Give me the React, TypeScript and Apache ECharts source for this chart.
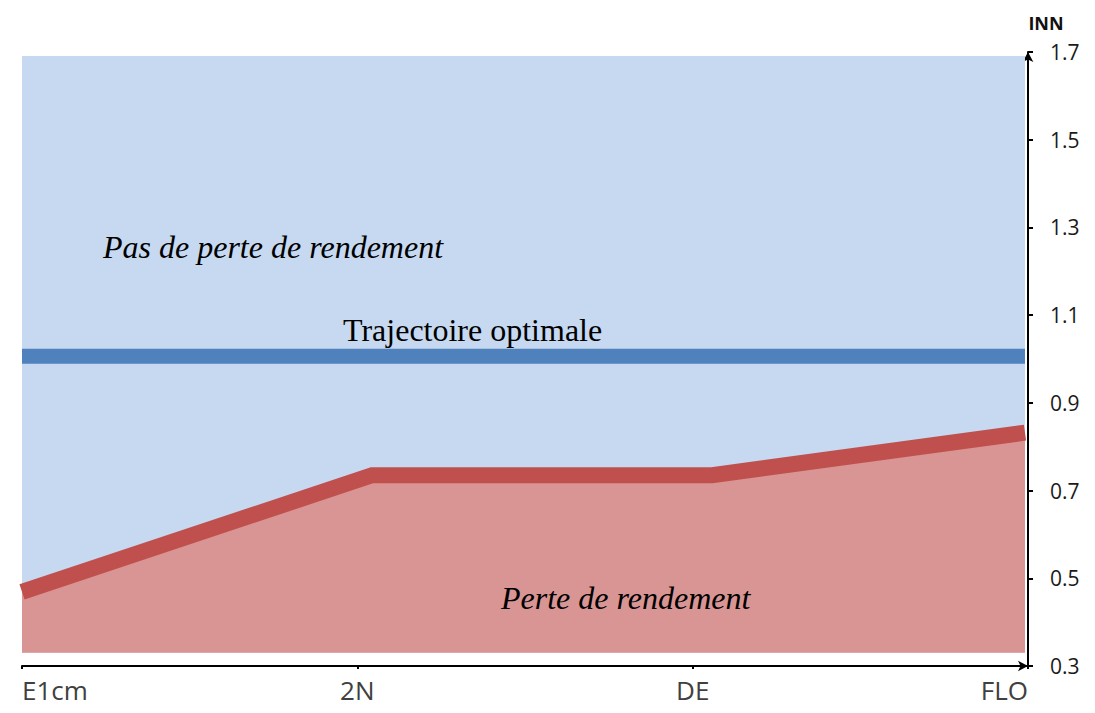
import React, { useEffect, useRef } from "react";
import * as echarts from "echarts";

const categories = ["E1cm", "2N", "DE", "FLO"];
const categoryTicks = [0, 1, 2, 3];
const yTicks = [0.3, 0.5, 0.7, 0.9, 1.1, 1.3, 1.5, 1.7];

// positions of the red trajectory's vertices along the x axis
const pointPositions = [0, 1.044, 2.058, 2.991];
const perteValues = [0.469, 0.735, 0.735, 0.832];

const optimalPositions = [0, 2.991];
const optimalValues = [1.006, 1.006];

const zonePositions = [0, 2.991];
const zoneTop = [1.691, 1.691];
const zoneBottom = 0.33;

const labelPas = "Pas de perte de rendement";
const labelOptimal = "Trajectoire optimale";
const labelPerte = "Perte de rendement";

export default function App() {
  const ref = useRef<HTMLDivElement>(null);
  useEffect(() => {
    if (!ref.current) return;
    const chart = echarts.init(ref.current, null, { renderer: "svg" });
    const zip = (xs: number[], ys: number[]) => xs.map((x, i) => [x, ys[i]]);
    chart.setOption({
      animation: false,
      grid: { left: 22, right: 67, top: 52, bottom: 47 },
      xAxis: {
        type: "value",
        min: 0,
        max: 3,
        position: "bottom",
        splitLine: { show: false },
        axisLine: {
          show: true,
          onZero: false,
          symbol: ["none", "arrow"],
          symbolSize: [8, 10],
          lineStyle: { color: "#000", width: 2 },
        },
        axisTick: {
          show: true,
          customValues: categoryTicks,
          length: 3,
          lineStyle: { color: "#000", width: 2 },
        },
        axisLabel: {
          customValues: categoryTicks,
          formatter: (v: number) => categories[Math.round(v)],
          fontSize: 26,
          lineHeight: 28,
          fontFamily: "Open Sans",
          color: "#404040",
          margin: 10,
          alignMinLabel: "left",
          alignMaxLabel: "right",
        },
      },
      yAxis: {
        type: "value",
        position: "right",
        min: 0.3,
        max: 1.7,
        name: "INN",
        nameLocation: "end",
        nameGap: 20,
        nameTextStyle: {
          fontFamily: "Open Sans",
          fontWeight: "bold",
          fontSize: 18,
          color: "#111",
          padding: [0, 0, 0, 36],
        },
        splitLine: { show: false },
        axisLine: {
          show: true,
          onZero: false,
          symbol: ["none", "arrow"],
          symbolSize: [8, 10],
          lineStyle: { color: "#000", width: 2 },
        },
        axisTick: {
          show: true,
          customValues: yTicks,
          length: 5,
          lineStyle: { color: "#000", width: 2 },
        },
        axisLabel: {
          customValues: yTicks,
          formatter: (v: number) => v.toFixed(1),
          fontSize: 21,
          fontFamily: "Open Sans",
          color: "#1a1a1a",
          margin: 22,
        },
      },
      series: [
        {
          name: "zone",
          type: "line",
          silent: true,
          symbol: "none",
          data: zip(zonePositions, zoneTop),
          lineStyle: { width: 0, opacity: 0 },
          areaStyle: { color: "#C6D9F0", opacity: 1, origin: zoneBottom },
          z: 1,
        },
        {
          name: "perte",
          type: "line",
          silent: true,
          symbol: "none",
          data: zip(pointPositions, perteValues),
          lineStyle: { width: 16, color: "#C0504D", cap: "butt", join: "miter" },
          areaStyle: { color: "#D99594", opacity: 1, origin: zoneBottom },
          z: 2,
        },
        {
          name: "optimale",
          type: "line",
          silent: true,
          symbol: "none",
          data: zip(optimalPositions, optimalValues),
          lineStyle: { width: 15, color: "#4F81BD", cap: "butt" },
          z: 3,
        },
      ],
      graphic: [
        {
          type: "text",
          x: 103,
          y: 247,
          z: 10,
          style: {
            text: labelPas,
            font: "italic 32px 'Liberation Serif'",
            fill: "#000",
            verticalAlign: "middle",
            align: "left",
          },
        },
        {
          type: "text",
          x: 343,
          y: 330,
          z: 10,
          style: {
            text: labelOptimal,
            font: "32px 'Liberation Serif'",
            fill: "#000",
            verticalAlign: "middle",
            align: "left",
          },
        },
        {
          type: "text",
          x: 501,
          y: 598,
          z: 10,
          style: {
            text: labelPerte,
            font: "italic 32px 'Liberation Serif'",
            fill: "#000",
            verticalAlign: "middle",
            align: "left",
          },
        },
      ],
    });
    return () => chart.dispose();
  }, []);
  return (
    <div
      ref={ref}
      style={{ position: "fixed", left: 0, top: 0, width: 1095, height: 713, background: "#fff" }}
    />
  );
}
